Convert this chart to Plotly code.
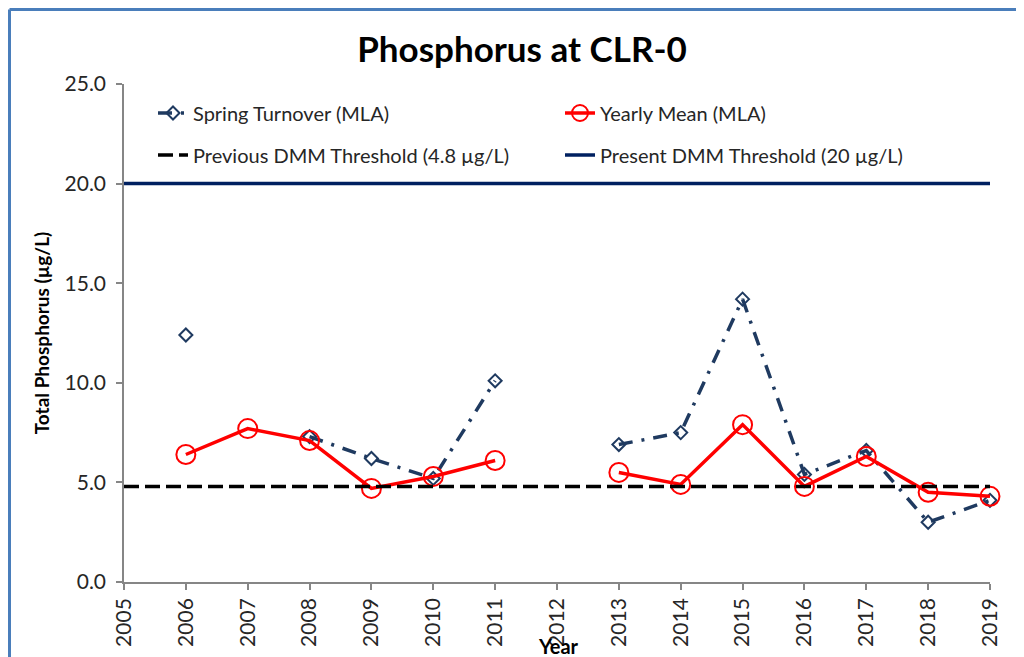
import plotly.graph_objects as go

years = [2006, 2007, 2008, 2009, 2010, 2011, 2012, 2013, 2014, 2015, 2016, 2017, 2018, 2019]
spring_turnover = [12.4, None, 7.3, 6.2, 5.2, 10.1, None, 6.9, 7.5, 14.2, 5.4, 6.6, 3.0, 4.1]
yearly_mean = [6.4, 7.7, 7.1, 4.7, 5.3, 6.1, None, 5.5, 4.9, 7.9, 4.8, 6.3, 4.5, 4.3]
threshold_years = [2005, 2019]
previous_threshold = [4.8, 4.8]
present_threshold = [20.0, 20.0]
tick_years = list(range(2005, 2020))
y_ticks = [0, 5, 10, 15, 20, 25]

# page offset (body margin) compensation
OFF = 8
W, H = 1024 - OFF, 657 - OFF
# target absolute plot area: x 124..990, y 84..582
L, T = 124 - OFF, 84 - OFF
R = W - (990 - OFF)
B = H - (582 - OFF)
pw, ph = W - L - R, H - T - B


def px_x(x):
    return (x - OFF - L) / pw


def px_y(y):
    return (H - B - (y - OFF)) / ph


FONT = "Lato"
TXT = "#262626"
fig = go.Figure()
fig.add_trace(go.Scatter(
    x=years, y=spring_turnover, name="Spring Turnover (MLA)", mode="lines+markers",
    line=dict(color="#1F3A60", width=3.5, dash="14px,9px,3px,9px"),
    marker=dict(symbol="diamond-open", size=10, color="#1F3A60", line=dict(width=2)),
    connectgaps=False, cliponaxis=False, legend="legend"))
fig.add_trace(go.Scatter(
    x=years, y=yearly_mean, name="Yearly Mean (MLA)", mode="lines+markers",
    line=dict(color="#FF0000", width=3.5),
    marker=dict(symbol="circle-open", size=19, color="#FF0000", line=dict(width=2)),
    connectgaps=False, cliponaxis=False, legend="legend"))
fig.add_trace(go.Scatter(
    x=threshold_years, y=previous_threshold, name="Previous DMM Threshold (4.8 µg/L)",
    mode="lines", line=dict(color="#000000", width=3.5, dash="15px,6px"), legend="legend2"))
fig.add_trace(go.Scatter(
    x=threshold_years, y=present_threshold, name="Present DMM Threshold (20 µg/L)",
    mode="lines", line=dict(color="#002060", width=3.5), legend="legend2"))

legend_common = dict(orientation="h", xanchor="left", yanchor="middle",
                     entrywidth=362, entrywidthmode="pixels", bgcolor="rgba(0,0,0,0)",
                     font=dict(family=FONT, size=20, color=TXT), itemwidth=30)

fig.update_layout(
    width=W, height=H, margin=dict(l=L, r=R, t=T, b=B, autoexpand=False),
    paper_bgcolor="white", plot_bgcolor="white",
    title=dict(text="<b>Phosphorus at CLR-0</b>", x=(522 - OFF) / W, xanchor="center",
               y=1 - (50 - OFF) / H, yanchor="middle", font=dict(family=FONT, size=35, color="black")),
    legend=dict(x=px_x(153), y=px_y(113), **legend_common),
    legend2=dict(x=px_x(153), y=px_y(155), **legend_common),
    xaxis=dict(range=[2005, 2019], tickvals=tick_years, ticktext=[str(t) for t in tick_years],
               tickangle=-90, showgrid=False, zeroline=False, showline=True, automargin=False,
               linecolor="#868686", linewidth=1.5, ticks="outside", tickcolor="#868686",
               ticklen=6, tickwidth=1.5,
               tickfont=dict(family=FONT, size=21, color=TXT)),
    yaxis=dict(range=[0, 25], tickvals=y_ticks, tickformat=".1f", showgrid=False, zeroline=False,
               showline=True, linecolor="#868686", linewidth=1.5, ticks="outside", automargin=False,
               tickcolor="#868686", ticklen=6, tickwidth=1.5, ticklabelstandoff=6,
               tickfont=dict(family=FONT, size=21, color=TXT),
               title=dict(text="<b>Total Phosphorus (µg/L)</b>",
                          font=dict(family=FONT, size=19, color="black"), standoff=10)),
    showlegend=True,
)

fig.add_annotation(text="<b>Year</b>", xref="paper", yref="paper",
                   x=px_x(558), y=px_y(646), xanchor="center", yanchor="middle",
                   showarrow=False, font=dict(family=FONT, size=20, color="black"))

# chart-area border (top and left edges visible)
border = dict(color="#4A7EBB", width=3)
fig.add_shape(type="line", xref="paper", yref="paper", x0=px_x(9.5), x1=px_x(1024),
              y0=px_y(9.5), y1=px_y(9.5), line=border)
fig.add_shape(type="line", xref="paper", yref="paper", x0=px_x(9.5), x1=px_x(9.5),
              y0=px_y(9.5), y1=px_y(657), line=border)

fig.write_html("out.html")
